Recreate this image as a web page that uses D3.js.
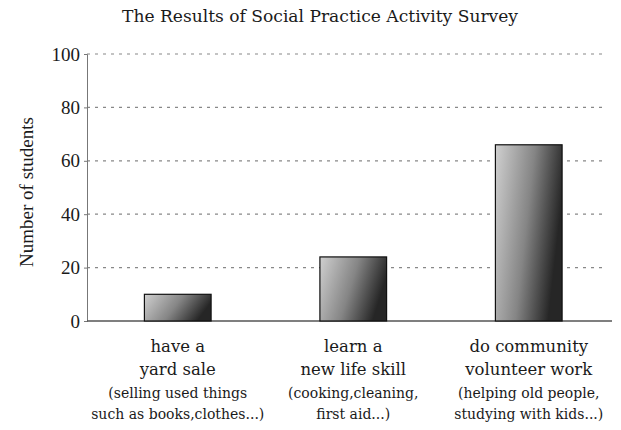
<!DOCTYPE html>
<html>
<head>
<meta charset="utf-8">
<script src="https://cdn.jsdelivr.net/npm/d3@7"></script>
<style>
  body { margin: 0; background: #fff; }
  text { font-family: "Liberation Serif", "DejaVu Serif", serif; fill: #1a1a1a; }
  .wide { font-family: "DejaVu Serif", "Liberation Serif", serif; }
</style>
</head>
<body>
<div id="chart"></div>
<script>
// chart data
const categories = ["yard", "skill", "volunteer"];
const values = [10, 24, 66];
const mainLabels = [["have a", "yard sale"], ["learn a", "new life skill"], ["do community", "volunteer work"]];
const subLabels = [
    ["(selling used things", "such as books,clothes...)"],
    ["(cooking,cleaning,", "first aid...)"],
    ["(helping old people,", "studying with kids...)"]
];
const yTicks = [0, 20, 40, 60, 80, 100];
const title = "The Results of Social Practice Activity Survey";
const yTitle = "Number of students";

const W = 621, H = 430;
const margin = { top: 54, right: 9, bottom: 109, left: 87 };

const svg = d3.select("#chart")
    .append("svg")
    .attr("width", W)
    .attr("height", H);

// gradient for the bars
const grad = svg.append("defs").append("linearGradient")
    .attr("id", "barGrad")
    .attr("x1", "0%").attr("y1", "0%")
    .attr("x2", "100%").attr("y2", "30%");
grad.append("stop").attr("offset", "0%").attr("stop-color", "#d0d0d0");
grad.append("stop").attr("offset", "55%").attr("stop-color", "#858585");
grad.append("stop").attr("offset", "100%").attr("stop-color", "#262626");

const x = d3.scaleBand()
    .domain(categories)
    .range([90, 616.5])
    .paddingInner(0.62)
    .paddingOuter(0.31);

const y = d3.scaleLinear()
    .domain([0, 100])
    .range([H - margin.bottom, margin.top]);

// dotted grid lines
svg.append("g")
    .selectAll("line")
    .data(yTicks.filter(d => d > 0))
    .enter().append("line")
    .attr("x1", margin.left)
    .attr("x2", 606)
    .attr("y1", d => y(d))
    .attr("y2", d => y(d))
    .attr("stroke", "#888")
    .attr("stroke-width", 1.2)
    .attr("stroke-dasharray", "3,5");

// y axis
const yAxis = svg.append("g")
    .attr("transform", `translate(${margin.left},0)`)
    .call(d3.axisLeft(y).tickValues(yTicks).tickSize(3).tickPadding(4));
yAxis.select(".domain").attr("stroke", "#777");
yAxis.selectAll(".tick line").attr("stroke", "#777");
yAxis.selectAll("text")
    .style("font-size", "19px")
    .attr("fill", "#1a1a1a");

// baseline
svg.append("line")
    .attr("x1", margin.left)
    .attr("x2", 612)
    .attr("y1", y(0))
    .attr("y2", y(0))
    .attr("stroke", "#555")
    .attr("stroke-width", 1.3);

// bars
svg.selectAll(".bar")
    .data(categories)
    .enter().append("rect")
    .attr("class", "bar")
    .attr("x", d => x(d))
    .attr("width", x.bandwidth())
    .attr("y", (d, i) => y(values[i]))
    .attr("height", (d, i) => y(0) - y(values[i]))
    .attr("fill", "url(#barGrad)")
    .attr("stroke", "#111")
    .attr("stroke-width", 1.2);

// category labels
categories.forEach((c, i) => {
    const cx = x(c) + x.bandwidth() / 2;
    const g = svg.append("text")
        .attr("class", "wide")
        .attr("text-anchor", "middle")
        .style("font-size", "16.5px");
    mainLabels[i].forEach((t, j) => {
        g.append("tspan").attr("x", cx).attr("y", 352 + j * 23).text(t);
    });
    const s = svg.append("text")
        .attr("class", "wide")
        .attr("text-anchor", "middle")
        .style("font-size", "14px");
    subLabels[i].forEach((t, j) => {
        s.append("tspan").attr("x", cx).attr("y", 398 + j * 21).text(t);
    });
});

// title
svg.append("text")
    .attr("class", "wide")
    .attr("x", 320)
    .attr("y", 22)
    .attr("text-anchor", "middle")
    .style("font-size", "16px")
    .attr("textLength", 396)
    .attr("lengthAdjust", "spacingAndGlyphs")
    .text(title);

// y axis title
svg.append("text")
    .attr("text-anchor", "middle")
    .attr("transform", `translate(33,192)rotate(-90)`)
    .style("font-size", "19px")
    .text(yTitle);
</script>
</body>
</html>
